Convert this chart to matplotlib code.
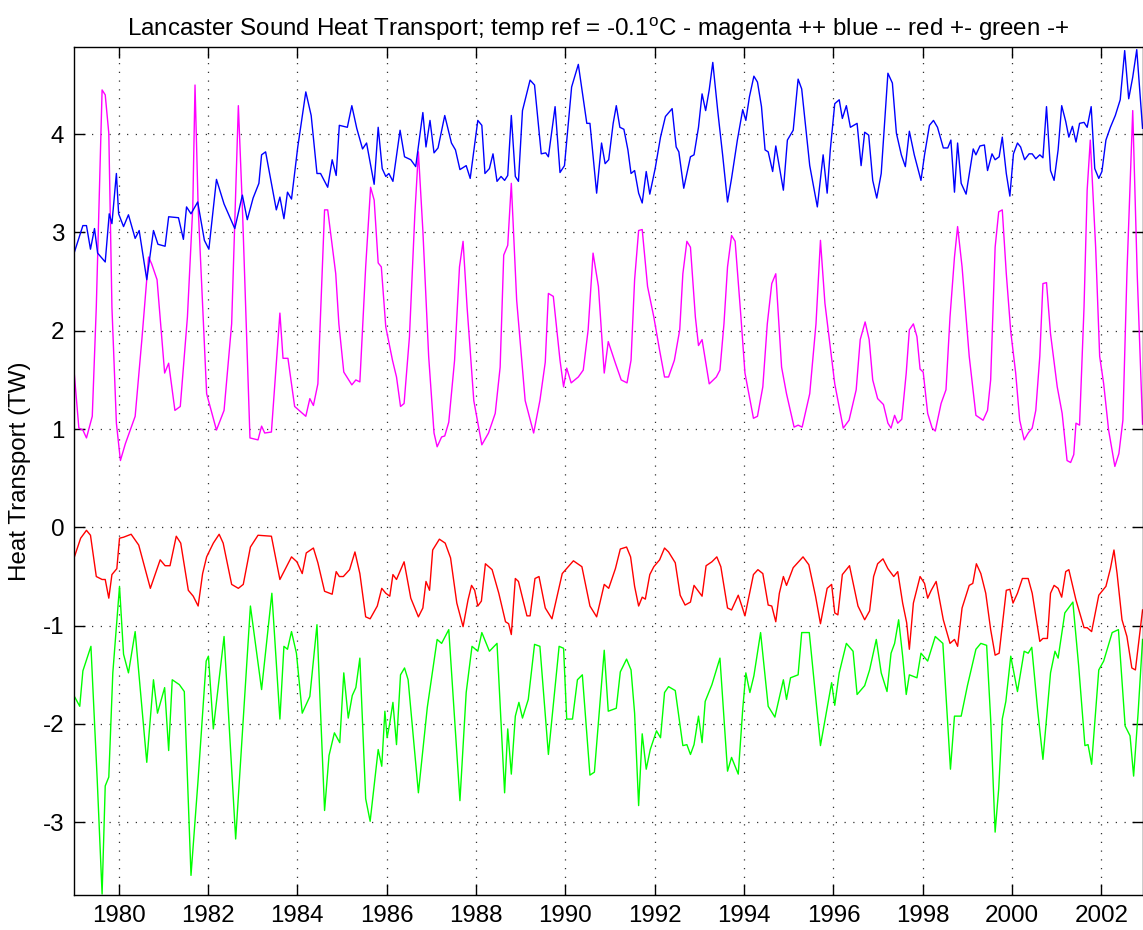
import matplotlib
matplotlib.use('Agg')
import matplotlib.pyplot as plt

plt.rcParams['font.family'] = ['Liberation Sans', 'DejaVu Sans']
plt.rcParams['axes.unicode_minus'] = False
plt.rcParams['mathtext.default'] = 'regular'

# magenta (++) series: decimal year, TW
magenta_t = [1979.01, 1979.11, 1979.20, 1979.28, 1979.41, 1979.50, 1979.63, 1979.70, 1979.78, 1979.85,
             1979.95, 1980.04, 1980.15, 1980.37, 1980.52, 1980.67, 1980.74, 1980.86, 1981.03, 1981.12,
             1981.26, 1981.38, 1981.54, 1981.66, 1981.71, 1981.78, 1981.97, 1982.19, 1982.36, 1982.53,
             1982.68, 1982.77, 1982.94, 1983.12, 1983.20, 1983.27, 1983.42, 1983.61, 1983.68, 1983.79,
             1983.94, 1984.19, 1984.28, 1984.36, 1984.46, 1984.61, 1984.68, 1984.86,
             1984.93, 1985.04, 1985.22, 1985.31, 1985.40, 1985.53, 1985.64, 1985.72, 1985.81, 1985.88,
             1985.98, 1986.13, 1986.22, 1986.31, 1986.39, 1986.51, 1986.63, 1986.71, 1986.81, 1986.94,
             1987.06, 1987.13, 1987.23, 1987.30, 1987.39, 1987.52, 1987.63, 1987.71, 1987.80, 1987.95,
             1988.13, 1988.28, 1988.43, 1988.54, 1988.62, 1988.71, 1988.79, 1988.91, 1989.10, 1989.29,
             1989.43, 1989.55, 1989.62, 1989.73, 1989.88, 1989.96, 1990.03, 1990.13, 1990.29, 1990.40,
             1990.51, 1990.62, 1990.74, 1990.87, 1990.96,
             1991.12, 1991.25, 1991.38, 1991.47, 1991.55, 1991.64, 1991.72, 1991.84, 1991.98, 1992.11,
             1992.22, 1992.31, 1992.44, 1992.56, 1992.63, 1992.72, 1992.80, 1992.91, 1992.98, 1993.06,
             1993.22, 1993.38, 1993.46, 1993.55, 1993.63, 1993.72, 1993.80, 1993.93, 1994.02, 1994.21,
             1994.30, 1994.42, 1994.52, 1994.62, 1994.71, 1994.84, 1994.95, 1995.12, 1995.21, 1995.30,
             1995.47, 1995.61, 1995.71, 1995.81, 1995.92, 1996.03, 1996.22, 1996.35, 1996.51, 1996.60,
             1996.71, 1996.80,
             1996.88, 1996.99, 1997.12, 1997.22, 1997.29, 1997.37, 1997.44, 1997.53, 1997.63, 1997.70,
             1997.79, 1997.87, 1997.94, 1998.01, 1998.11, 1998.21, 1998.28, 1998.41, 1998.52, 1998.61,
             1998.71, 1998.78, 1998.88, 1999.04, 1999.19, 1999.35, 1999.45, 1999.52, 1999.62, 1999.70,
             1999.78, 1999.87, 1999.97, 2000.08, 2000.17, 2000.27, 2000.36, 2000.45, 2000.53, 2000.62,
             2000.69, 2000.77, 2000.86, 2001.01, 2001.12, 2001.23, 2001.31, 2001.38, 2001.43, 2001.51,
             2001.61, 2001.68, 2001.75, 2001.87, 2001.96, 2002.05, 2002.16, 2002.30, 2002.39, 2002.48,
             2002.57, 2002.70, 2002.80, 2002.92]
magenta_v = [1.55, 1.01, 0.99, 0.91, 1.13, 2.24, 4.45, 4.40, 4.01, 2.24,
             1.06, 0.68, 0.85, 1.13, 1.91, 2.75, 2.68, 2.52, 1.57, 1.67,
             1.19, 1.23, 2.14, 3.26, 4.50, 3.26, 1.36, 0.99, 1.19, 2.07,
             4.29, 3.26, 0.91, 0.89, 1.03, 0.96, 0.97, 2.18, 1.72, 1.72,
             1.23, 1.13, 1.31, 1.24, 1.46, 3.23, 3.23, 2.58,
             2.07, 1.58, 1.45, 1.50, 1.48, 2.65, 3.46, 3.33, 2.69, 2.65,
             2.04, 1.70, 1.53, 1.23, 1.26, 1.94, 3.18, 3.82, 3.02, 1.74,
             0.96, 0.82, 0.92, 0.93, 1.07, 1.70, 2.65, 2.91, 2.24, 1.29,
             0.84, 0.96, 1.16, 1.63, 2.77, 2.87, 3.50, 2.31, 1.29, 0.96,
             1.29, 1.68, 2.38, 2.35, 1.70, 1.43, 1.62, 1.47, 1.53, 1.60,
             2.01, 2.79, 2.45, 1.57, 1.89,
             1.67, 1.50, 1.47, 1.70, 2.52, 3.02, 3.03, 2.45, 2.14, 1.80,
             1.53, 1.53, 1.70, 2.01, 2.58, 2.91, 2.85, 2.14, 1.85, 1.91,
             1.46, 1.53, 1.60, 2.07, 2.65, 2.97, 2.91, 2.14, 1.57, 1.11,
             1.13, 1.43, 2.07, 2.48, 2.58, 1.63, 1.36, 1.02, 1.04, 1.02,
             1.36, 2.07, 2.92, 2.28, 1.87, 1.46, 1.01, 1.09, 1.40, 1.91,
             2.09, 1.91,
             1.50, 1.31, 1.25, 1.06, 1.01, 1.14, 1.06, 1.10, 1.57, 2.01,
             2.07, 1.94, 1.61, 1.58, 1.16, 1.01, 0.98, 1.26, 1.40, 2.14,
             2.75, 3.06, 2.65, 1.74, 1.14, 1.09, 1.19, 1.50, 2.85, 3.21,
             3.23, 2.58, 1.99, 1.57, 1.09, 0.89, 0.96, 1.01, 1.19, 1.74,
             2.48, 2.49, 1.97, 1.43, 1.16, 0.68, 0.66, 0.74, 1.06, 1.04,
             2.24, 3.43, 3.94, 2.85, 1.74, 1.46, 0.99, 0.62, 0.75, 1.09,
             2.58, 4.24, 2.58, 1.05]

# blue (--) series
blue_t = [1979.01, 1979.20, 1979.28, 1979.37, 1979.46, 1979.53, 1979.70, 1979.79, 1979.85, 1979.95,
          1980.00, 1980.11, 1980.22, 1980.37, 1980.46, 1980.63, 1980.78, 1980.88, 1981.04, 1981.12,
          1981.34, 1981.45, 1981.52, 1981.62, 1981.77, 1981.92, 1982.02, 1982.19, 1982.36, 1982.60,
          1982.77, 1982.88, 1983.01, 1983.14, 1983.20, 1983.29, 1983.53, 1983.61, 1983.70, 1983.78,
          1983.87, 1984.01, 1984.19, 1984.31, 1984.44, 1984.52, 1984.68, 1984.78, 1984.87, 1984.94,
          1985.12, 1985.22, 1985.33, 1985.46, 1985.55, 1985.72, 1985.81, 1985.90, 1985.98, 1986.05,
          1986.14, 1986.30, 1986.40, 1986.54, 1986.65, 1986.81, 1986.88, 1986.97, 1987.06, 1987.15,
          1987.30, 1987.45, 1987.54, 1987.64, 1987.78, 1987.87, 1988.04, 1988.13, 1988.20, 1988.30,
          1988.38, 1988.47, 1988.56, 1988.64, 1988.71, 1988.79, 1988.88, 1988.95, 1989.04, 1989.21,
          1989.31, 1989.46, 1989.56, 1989.62, 1989.77, 1989.88, 1989.98, 1990.14, 1990.29, 1990.48,
          1990.55, 1990.70, 1990.81, 1990.89, 1990.97,
          1991.07, 1991.14, 1991.22, 1991.31, 1991.40, 1991.47, 1991.55, 1991.64, 1991.72, 1991.81,
          1991.89, 1992.01, 1992.13, 1992.24, 1992.39, 1992.48, 1992.54, 1992.65, 1992.80, 1992.88,
          1992.98, 1993.06, 1993.14, 1993.22, 1993.30, 1993.41, 1993.52, 1993.63, 1993.72, 1993.85,
          1993.97, 1994.04, 1994.12, 1994.22, 1994.30, 1994.39, 1994.47, 1994.54, 1994.64, 1994.71,
          1994.88, 1994.97, 1995.10, 1995.21, 1995.29, 1995.47, 1995.64, 1995.77, 1995.86, 1995.93,
          1996.03, 1996.13, 1996.20, 1996.29, 1996.38, 1996.53, 1996.62, 1996.70, 1996.79,
          1996.88, 1996.97, 1997.07, 1997.22, 1997.32, 1997.41, 1997.52, 1997.61, 1997.70, 1997.81,
          1997.96, 1998.04, 1998.15, 1998.24, 1998.33, 1998.46, 1998.56, 1998.63, 1998.71, 1998.78,
          1998.86, 1998.97, 1999.13, 1999.19, 1999.28, 1999.38, 1999.45, 1999.55, 1999.62, 1999.71,
          1999.78, 1999.87, 1999.95, 2000.03, 2000.12, 2000.19, 2000.28, 2000.38, 2000.45, 2000.53,
          2000.62, 2000.69, 2000.77, 2000.86, 2000.94, 2001.03, 2001.11, 2001.20, 2001.27, 2001.35,
          2001.43, 2001.51, 2001.61, 2001.68, 2001.77, 2001.85, 2001.94, 2002.01, 2002.10, 2002.20,
          2002.31, 2002.42, 2002.52, 2002.61, 2002.70, 2002.79, 2002.92]
blue_v = [2.80, 3.07, 3.07, 2.83, 3.04, 2.79, 2.70, 3.19, 3.09, 3.60,
          3.19, 3.06, 3.18, 2.94, 3.02, 2.52, 3.02, 2.88, 2.86, 3.16,
          3.15, 2.93, 3.26, 3.19, 3.31, 2.92, 2.83, 3.54, 3.29, 3.04,
          3.38, 3.13, 3.35, 3.50, 3.79, 3.82, 3.23, 3.36, 3.14, 3.41,
          3.34, 3.87, 4.43, 4.19, 3.60, 3.60, 3.46, 3.74, 3.58, 4.09,
          4.07, 4.29, 4.06, 3.85, 3.91, 3.49, 4.07, 3.65, 3.57, 3.60,
          3.52, 4.04, 3.77, 3.74, 3.67, 4.22, 3.87, 4.14, 3.81, 3.86,
          4.19, 3.91, 3.84, 3.64, 3.68, 3.55, 4.14, 4.09, 3.60, 3.65,
          3.80, 3.52, 3.57, 3.53, 3.58, 4.19, 3.57, 3.52, 4.24, 4.55,
          4.50, 3.80, 3.81, 3.77, 4.28, 3.61, 3.68, 4.48, 4.71, 4.11,
          4.11, 3.40, 3.91, 3.70, 3.74,
          4.11, 4.29, 4.07, 4.05, 3.84, 3.60, 3.63, 3.40, 3.30, 3.62,
          3.39, 3.65, 3.97, 4.18, 4.26, 3.87, 3.82, 3.45, 3.77, 3.79,
          4.07, 4.41, 4.24, 4.45, 4.73, 4.24, 3.79, 3.31, 3.55, 3.94,
          4.25, 4.14, 4.38, 4.59, 4.53, 4.28, 3.84, 3.82, 3.62, 3.88,
          3.43, 3.94, 4.04, 4.56, 4.46, 3.68, 3.26, 3.79, 3.40, 3.84,
          4.31, 4.35, 4.16, 4.29, 4.07, 4.11, 3.68, 4.02, 3.99,
          3.53, 3.35, 3.60, 4.62, 4.52, 4.01, 3.79, 3.67, 4.03, 3.79,
          3.53, 3.79, 4.09, 4.14, 4.07, 3.86, 3.86, 3.94, 3.41, 3.91,
          3.50, 3.39, 3.85, 3.79, 3.88, 3.89, 3.63, 3.80, 3.74, 3.77,
          3.97, 3.60, 3.37, 3.80, 3.91, 3.87, 3.74, 3.80, 3.80, 3.75,
          3.79, 3.76, 4.28, 3.63, 3.53, 3.84, 4.29, 4.13, 3.97, 4.08,
          3.92, 4.11, 4.12, 4.07, 4.28, 3.65, 3.55, 3.62, 3.94, 4.07,
          4.19, 4.35, 4.85, 4.36, 4.58, 4.86, 4.06]

# red (+-) series
red_t = [1979.01, 1979.15, 1979.28, 1979.37, 1979.50, 1979.63, 1979.70, 1979.78, 1979.85, 1979.96,
         1980.02, 1980.11, 1980.28, 1980.45, 1980.71, 1980.93, 1981.04, 1981.15, 1981.29, 1981.39,
         1981.56, 1981.67, 1981.78, 1981.88, 1981.97, 1982.12, 1982.25, 1982.34, 1982.53, 1982.68,
         1982.79, 1982.95, 1983.12, 1983.42, 1983.61, 1983.87, 1983.99, 1984.11, 1984.20, 1984.36,
         1984.46, 1984.61, 1984.78, 1984.87, 1984.94,
         1985.03, 1985.17, 1985.29, 1985.40, 1985.53, 1985.63, 1985.79, 1985.89, 1985.98, 1986.07,
         1986.14, 1986.22, 1986.39, 1986.54, 1986.71, 1986.81, 1986.88, 1986.96, 1987.03, 1987.18,
         1987.31, 1987.43, 1987.57, 1987.71, 1987.82, 1987.90, 1987.97, 1988.04, 1988.12, 1988.21,
         1988.36, 1988.51, 1988.66, 1988.73, 1988.79, 1988.88, 1988.95, 1989.14, 1989.21, 1989.32,
         1989.41, 1989.55, 1989.70, 1989.93, 1990.18, 1990.37, 1990.55, 1990.70, 1990.87, 1990.97,
         1991.12, 1991.23, 1991.37, 1991.46, 1991.55, 1991.64, 1991.72, 1991.79, 1991.89, 1991.98,
         1992.11, 1992.22, 1992.31, 1992.46, 1992.57, 1992.68, 1992.80, 1992.88, 1993.06, 1993.15,
         1993.28, 1993.39, 1993.48, 1993.63, 1993.72, 1993.87, 1993.95, 1994.02, 1994.21, 1994.31,
         1994.42, 1994.54, 1994.62, 1994.71, 1994.79, 1994.88, 1994.95, 1995.10, 1995.32, 1995.45,
         1995.60, 1995.71, 1995.86, 1995.96, 1996.03, 1996.10, 1996.20, 1996.36, 1996.55, 1996.70,
         1996.81, 1996.90, 1996.99, 1997.11, 1997.22, 1997.35, 1997.44, 1997.55, 1997.64, 1997.70,
         1997.79, 1997.94, 1998.04, 1998.11, 1998.19, 1998.30, 1998.46, 1998.61, 1998.71, 1998.78,
         1998.88, 1999.04, 1999.12, 1999.20, 1999.30, 1999.41, 1999.52, 1999.62, 1999.71, 1999.87,
         1999.95, 2000.02, 2000.12, 2000.23, 2000.36, 2000.45, 2000.62, 2000.69, 2000.79, 2000.86,
         2000.94, 2001.03, 2001.11, 2001.20, 2001.27, 2001.43, 2001.61, 2001.68, 2001.78, 2001.94,
         2002.10, 2002.20, 2002.28, 2002.35, 2002.46, 2002.57, 2002.68, 2002.76, 2002.92]
red_v = [-0.30, -0.11, -0.03, -0.08, -0.50, -0.53, -0.53, -0.72, -0.48, -0.42,
         -0.11, -0.10, -0.07, -0.18, -0.62, -0.33, -0.39, -0.39, -0.09, -0.16,
         -0.64, -0.70, -0.80, -0.47, -0.30, -0.16, -0.07, -0.16, -0.58, -0.62,
         -0.58, -0.20, -0.08, -0.09, -0.53, -0.30, -0.35, -0.47, -0.26, -0.21,
         -0.36, -0.65, -0.68, -0.45, -0.50,
         -0.50, -0.43, -0.25, -0.47, -0.91, -0.93, -0.80, -0.62, -0.67, -0.70,
         -0.48, -0.53, -0.35, -0.72, -0.91, -0.82, -0.55, -0.64, -0.23, -0.12,
         -0.16, -0.31, -0.77, -1.01, -0.74, -0.59, -0.64, -0.80, -0.75, -0.37,
         -0.43, -0.67, -0.96, -0.98, -1.09, -0.52, -0.55, -0.90, -0.90, -0.52,
         -0.50, -0.82, -0.93, -0.47, -0.34, -0.40, -0.80, -0.91, -0.58, -0.62,
         -0.42, -0.22, -0.20, -0.30, -0.60, -0.80, -0.71, -0.73, -0.48, -0.40,
         -0.33, -0.21, -0.25, -0.36, -0.69, -0.79, -0.76, -0.59, -0.70, -0.39,
         -0.35, -0.30, -0.40, -0.82, -0.84, -0.69, -0.80, -0.90, -0.48, -0.43,
         -0.47, -0.79, -0.80, -0.96, -0.67, -0.50, -0.59, -0.41, -0.30, -0.38,
         -0.70, -0.98, -0.62, -0.58, -0.87, -0.89, -0.48, -0.39, -0.80, -0.94,
         -0.85, -0.50, -0.37, -0.32, -0.42, -0.50, -0.45, -0.77, -0.97, -1.24,
         -0.77, -0.50, -0.57, -0.72, -0.64, -0.55, -0.94, -1.18, -1.14, -1.21,
         -0.82, -0.59, -0.57, -0.37, -0.47, -0.67, -1.04, -1.30, -1.28, -0.64,
         -0.63, -0.77, -0.67, -0.52, -0.52, -0.67, -1.16, -1.13, -1.13, -0.67,
         -0.59, -0.62, -0.71, -0.45, -0.43, -0.74, -1.02, -1.02, -1.06, -0.69,
         -0.60, -0.42, -0.23, -0.47, -0.94, -1.11, -1.43, -1.45, -0.84]

# green (-+) series
green_t = [1979.01, 1979.13, 1979.20, 1979.38, 1979.52, 1979.63, 1979.70, 1979.78, 1979.87, 1980.02,
           1980.11, 1980.22, 1980.37, 1980.63, 1980.78, 1980.87, 1981.03, 1981.12, 1981.20, 1981.36,
           1981.47, 1981.62, 1981.78, 1981.96, 1982.01, 1982.12, 1982.36, 1982.62, 1982.95, 1983.20,
           1983.43, 1983.61, 1983.70, 1983.78, 1983.87, 1983.98, 1984.11, 1984.28, 1984.44, 1984.61,
           1984.71, 1984.83,
           1984.95, 1985.04, 1985.14, 1985.23, 1985.31, 1985.40, 1985.53, 1985.63, 1985.72, 1985.81,
           1985.89, 1985.96, 1986.01, 1986.07, 1986.14, 1986.22, 1986.31, 1986.40, 1986.48, 1986.71,
           1986.91, 1987.13, 1987.23, 1987.39, 1987.64, 1987.78, 1987.91, 1988.04, 1988.13, 1988.30,
           1988.47, 1988.64, 1988.71, 1988.79, 1988.88, 1988.96, 1989.04, 1989.17, 1989.31, 1989.43,
           1989.62, 1989.86, 1989.96, 1990.03, 1990.16, 1990.27, 1990.38, 1990.55, 1990.65, 1990.87,
           1990.96,
           1991.14, 1991.23, 1991.37, 1991.47, 1991.55, 1991.64, 1991.72, 1991.81, 1991.90, 1992.04,
           1992.13, 1992.22, 1992.31, 1992.46, 1992.63, 1992.72, 1992.80, 1992.88, 1992.98, 1993.06,
           1993.13, 1993.28, 1993.46, 1993.63, 1993.72, 1993.87, 1993.97, 1994.04, 1994.13, 1994.22,
           1994.37, 1994.54, 1994.69, 1994.88, 1994.95, 1995.04, 1995.21, 1995.29, 1995.46, 1995.71,
           1995.96, 1996.03, 1996.13, 1996.29, 1996.44, 1996.53, 1996.70,
           1996.81, 1996.96, 1997.07, 1997.20, 1997.29, 1997.37, 1997.46, 1997.55, 1997.63, 1997.70,
           1997.87, 1997.96, 1998.11, 1998.28, 1998.45, 1998.54, 1998.62, 1998.71, 1998.86, 1999.00,
           1999.19, 1999.30, 1999.43, 1999.52, 1999.62, 1999.70, 1999.78, 1999.86, 1999.97, 2000.12,
           2000.27, 2000.36, 2000.44, 2000.57, 2000.69, 2000.86, 2000.96, 2001.03, 2001.18, 2001.36,
           2001.49, 2001.63, 2001.70, 2001.78, 2001.94, 2002.05, 2002.24, 2002.38, 2002.53, 2002.64,
           2002.72, 2002.82, 2002.92]
green_v = [-1.72, -1.82, -1.46, -1.21, -2.56, -3.73, -2.63, -2.54, -1.48, -0.60,
           -1.29, -1.48, -1.06, -2.39, -1.55, -1.89, -1.63, -2.27, -1.55, -1.60,
           -1.67, -3.54, -2.56, -1.36, -1.31, -2.05, -1.11, -3.17, -0.80, -1.65,
           -0.67, -1.95, -1.21, -1.24, -1.06, -1.28, -1.89, -1.72, -0.99, -2.88,
           -2.32, -2.09,
           -2.19, -1.48, -1.94, -1.71, -1.63, -1.33, -2.76, -2.99, -2.63, -2.26,
           -2.43, -1.87, -2.14, -1.99, -1.78, -2.21, -1.50, -1.43, -1.55, -2.70,
           -1.83, -1.14, -1.18, -1.04, -2.78, -1.68, -1.21, -1.26, -1.07, -1.26,
           -1.18, -2.70, -2.05, -2.51, -1.92, -1.78, -1.94, -1.75, -1.19, -1.21,
           -2.31, -1.21, -1.23, -1.95, -1.95, -1.55, -1.50, -2.52, -2.49, -1.25,
           -1.87,
           -1.84, -1.47, -1.34, -1.45, -1.89, -2.83, -2.10, -2.46, -2.26, -2.07,
           -2.14, -1.68, -1.62, -1.66, -2.22, -2.21, -2.31, -2.21, -1.92, -2.19,
           -1.77, -1.60, -1.33, -2.48, -2.34, -2.51, -1.85, -1.48, -1.68, -1.51,
           -1.07, -1.82, -1.93, -1.55, -1.75, -1.53, -1.50, -1.07, -1.07, -2.22,
           -1.58, -1.81, -1.48, -1.18, -1.26, -1.70, -1.61,
           -1.45, -1.14, -1.48, -1.67, -1.28, -1.18, -0.94, -1.31, -1.70, -1.50,
           -1.53, -1.28, -1.36, -1.11, -1.18, -1.85, -2.46, -1.92, -1.92, -1.61,
           -1.24, -1.18, -1.20, -1.95, -3.10, -2.66, -1.95, -1.77, -1.31, -1.67,
           -1.26, -1.28, -1.22, -1.85, -2.36, -1.48, -1.26, -1.33, -0.87, -0.76,
           -1.41, -2.22, -2.21, -2.41, -1.45, -1.36, -1.07, -1.04, -2.02, -2.12,
           -2.53, -1.89, -1.14]

year_ticks = list(range(1980, 2003, 2))
value_ticks = list(range(-3, 5))

fig = plt.figure(figsize=(11.43, 9.30), dpi=100)
ax = fig.add_axes([0.0647, 0.0376, 0.9353, 0.9122])

ax.plot(magenta_t, magenta_v, color='#ff00ff', lw=1.0)
ax.plot(blue_t, blue_v, color='#0000ff', lw=1.0)
ax.plot(red_t, red_v, color='#ff0000', lw=1.0)
ax.plot(green_t, green_v, color='#00ff00', lw=1.0)

ax.set_xlim(1979.0, 2002.93)
ax.set_ylim(-3.74, 4.89)
ax.set_xticks(year_ticks)
ax.set_yticks(value_ticks)
ax.grid(True, color='0.2', linestyle=(0, (1, 6)), linewidth=0.9)
ax.tick_params(direction='in', length=8, width=1, top=True, right=True,
               labelsize=17.4, pad=7)
for s in ax.spines.values():
    s.set_linewidth(1.0)

ax.set_ylabel('Heat Transport (TW)', fontsize=17.4)
ax.yaxis.set_label_coords(-0.040, 0.5)
ax.set_title('Lancaster Sound Heat Transport; temp ref = -0.1$^{o}$C - magenta ++ blue -- red +- green -+',
             fontsize=17.4, pad=8, x=0.49)

fig.savefig('out.png', dpi=100)
